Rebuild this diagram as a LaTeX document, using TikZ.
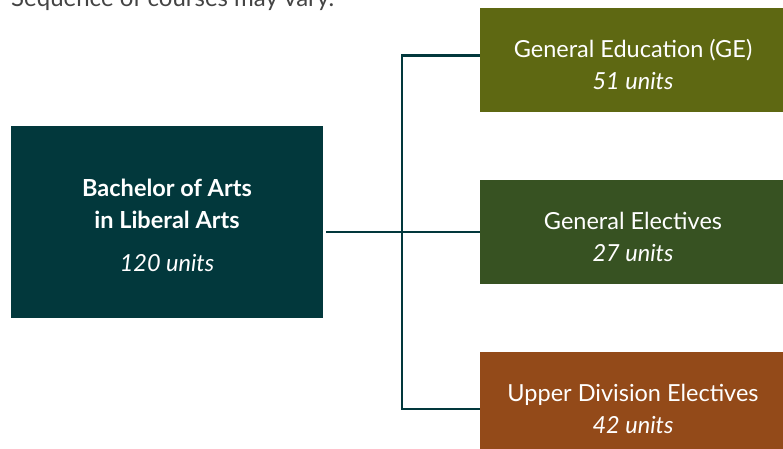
\documentclass[tikz,border=0pt]{standalone}
\usepackage{fontspec}
\setmainfont{Lato}
\usepackage{tikz}

\definecolor{degreeteal}{HTML}{02383C}
\definecolor{geolive}{HTML}{5E6812}
\definecolor{electgreen}{HTML}{375222}
\definecolor{upperbrown}{HTML}{934A19}
\definecolor{notegray}{HTML}{444444}

\tikzset{
  block/.style={minimum width=306pt, minimum height=104pt, inner sep=0pt,
    align=center, text=white, font=\fontsize{23.5}{32}\selectfont},
  link/.style={draw=degreeteal, line width=2.5pt},
}

\begin{document}
\begin{tikzpicture}[x=1pt,y=-1pt]
    \useasboundingbox (0,0) rectangle (783,448);

    % Note at the top (cut off by the page edge)
    \node[anchor=base west, inner sep=0pt, text=notegray, font=\fontsize{24}{28}\selectfont] (note) at (11,6) {Sequence of courses may vary.};

    % Degree box
    \node[fill=degreeteal, minimum width=312pt, minimum height=192pt, inner sep=0pt,
          align=center, text=white, font=\fontsize{23.5}{32}\selectfont] (degree) at (167,222)
          {\rule{0pt}{25pt}\textbf{Bachelor of Arts}\\ \textbf{in Liberal Arts}\\[11pt] \textit{120 units}};

    % Requirement boxes
    \node[block, fill=geolive] (ge) at (633,60) {\rule{0pt}{28pt}General Education (GE)\\ \textit{51 units}};
    \node[block, fill=electgreen] (elect) at (633,232) {\rule{0pt}{28pt}General Electives\\ \textit{27 units}};
    \node[block, fill=upperbrown] (upper) at (633,404) {\rule{0pt}{28pt}Upper Division Electives\\ \textit{42 units}};

    % Connectors
    \coordinate (split) at (402,232);
    \draw[link] ([xshift=3pt]degree.east |- elect.west) -- (elect.west);
    \draw[link] ([yshift=4.5pt]ge.west) -| (split) |- ([yshift=-5pt]upper.west);
\end{tikzpicture}
\end{document}
